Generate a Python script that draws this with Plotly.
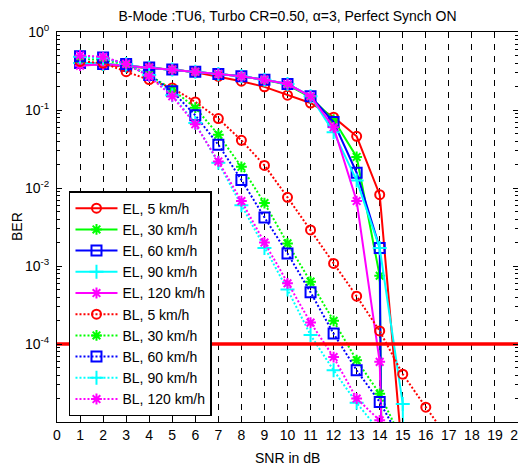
import plotly.graph_objects as go

# ---------------- data ----------------
snr = list(range(1, 18))

# EL (solid) curves
el_5 = [0.395, 0.376, 0.36, 0.345, 0.33, 0.305, 0.27, 0.234, 0.198, 0.155, 0.123, 0.081, 0.046, 0.0082, 3.3e-6, None, None]
el_30 = [0.40, 0.39, 0.37, 0.35, 0.33, 0.31, 0.29, 0.27, 0.245, 0.21, 0.145, 0.075, 0.025, 7.5e-4, 1e-30, None, None]
el_60 = [0.40, 0.39, 0.37, 0.35, 0.33, 0.31, 0.29, 0.27, 0.245, 0.215, 0.150, 0.070, 0.0157, 0.0017, 1e-40, None, None]
el_90 = [0.40, 0.39, 0.37, 0.35, 0.33, 0.31, 0.29, 0.27, 0.245, 0.215, 0.150, 0.052, 0.0125, 0.0017, 1.7e-5, 1e-40, None]
el_120 = [0.37, 0.385, 0.37, 0.35, 0.33, 0.31, 0.29, 0.27, 0.245, 0.215, 0.150, 0.060, 0.0068, 5.9e-5, 1e-15, None, None]

# BL (dotted) curves
bl_5 = [0.42, 0.40, 0.31, 0.246, 0.192, 0.127, 0.0776, 0.0408, 0.0195, 0.0076, 0.0029, 0.00108, 4.1e-4, 1.47e-4, 4.1e-5, 1.55e-5, 6e-6]
bl_30 = [0.45, 0.44, 0.38, 0.28, 0.183, 0.107, 0.0483, 0.0187, 0.0064, 0.00195, 6.3e-4, 1.98e-4, 6.2e-5, 2.3e-5, 5.6e-6, None, None]
bl_60 = [0.49, 0.47, 0.39, 0.28, 0.174, 0.0856, 0.0359, 0.0127, 0.0042, 0.00145, 4.6e-4, 1.36e-4, 4.6e-5, 1.8e-5, 5.3e-6, None, None]
bl_90 = [0.48, 0.46, 0.39, 0.28, 0.155, 0.068, 0.021, 0.0060, 0.0017, 5.0e-4, 1.3e-4, 4.6e-5, 1.76e-5, 7.6e-6, None, None, None]
bl_120 = [0.50, 0.48, 0.39, 0.27, 0.150, 0.0656, 0.0219, 0.0068, 0.0020, 6.0e-4, 1.88e-4, 6.8e-5, 2.0e-5, 1.05e-5, None, None, None]

target_ber = 1e-4
x_ticks = list(range(0, 21))
y_tick_vals = [1, 1e-1, 1e-2, 1e-3, 1e-4]
y_tick_text = ["10<sup>0</sup>", "10<sup>-1</sup>", "10<sup>-2</sup>", "10<sup>-3</sup>", "10<sup>-4</sup>"]
y_minor_vals = [k * 10.0 ** e for e in range(-5, 0) for k in range(2, 10)]

series = [
    ("EL, 5 km/h", el_5, "#FF0000", "circle-open", "solid", 9),
    ("EL, 30 km/h", el_30, "#00FF00", "asterisk-open", "solid", 9),
    ("EL, 60 km/h", el_60, "#0000FF", "square-open", "solid", 10),
    ("EL, 90 km/h", el_90, "#00FFFF", "cross-thin-open", "solid", 10),
    ("EL, 120 km/h", el_120, "#FF00FF", "asterisk-open", "solid", 9),
    ("BL, 5 km/h", bl_5, "#FF0000", "circle-open", "2px,2px", 9),
    ("BL, 30 km/h", bl_30, "#00FF00", "asterisk-open", "2px,2px", 9),
    ("BL, 60 km/h", bl_60, "#0000FF", "square-open", "2px,2px", 10),
    ("BL, 90 km/h", bl_90, "#00FFFF", "cross-thin-open", "2px,2px", 10),
    ("BL, 120 km/h", bl_120, "#FF00FF", "asterisk-open", "2px,2px", 9),
]

FONT = "Liberation Sans, Arial, sans-serif"
# the page body has an 8px default margin, so the figure is drawn 8px in and down
OFF = 8
W, H = 526 - OFF, 468 - OFF

fig = go.Figure()
for name, vals, color, sym, dash, msize in series:
    fig.add_trace(go.Scatter(
        x=snr, y=vals, name=name, mode="lines+markers",
        line=dict(color=color, width=2, dash=dash),
        marker=dict(symbol=sym, size=msize, color=color, line=dict(color=color, width=2)),
    ))

fig.add_trace(go.Scatter(
    x=[x_ticks[0], x_ticks[-1]], y=[target_ber, target_ber], mode="lines",
    line=dict(color="#FF0000", width=3.5), showlegend=False, hoverinfo="skip",
))

fig.update_layout(
    width=W, height=H,
    margin=dict(l=57 - OFF, r=8, t=32 - OFF, b=46, autoexpand=False),
    paper_bgcolor="white", plot_bgcolor="white",
    font=dict(family=FONT, size=14, color="black"),
    title=dict(text="B-Mode :TU6, Turbo CR=0.50, α=3, Perfect Synch ON",
               x=0.5, xref="paper", xanchor="center",
               y=1, yref="container", yanchor="top", pad=dict(t=3),
               font=dict(family=FONT, size=14, color="black")),
    showlegend=True,
    legend=dict(x=0.026, y=0.592, xanchor="left", yanchor="top",
                bgcolor="white", bordercolor="black", borderwidth=1.5,
                font=dict(family=FONT, size=14, color="black"),
                itemwidth=42, tracegroupgap=0),
    xaxis=dict(range=[0, 20], tickmode="array", tickvals=x_ticks,
               ticks="inside", ticklen=4, tickcolor="black",
               showline=True, linecolor="black", linewidth=1, mirror="ticks",
               showgrid=True, gridcolor="black", gridwidth=1, griddash="6px,6px",
               zeroline=False, tickfont=dict(family=FONT, size=14)),
    yaxis=dict(type="log", range=[-5.0, 0], tickmode="array",
               tickvals=y_tick_vals, ticktext=y_tick_text,
               ticks="inside", ticklen=5, tickcolor="black", ticklabelstandoff=4,
               minor=dict(tickmode="array", tickvals=y_minor_vals, ticks="inside",
                          ticklen=3, tickcolor="black", showgrid=False),
               showline=True, linecolor="black", linewidth=1, mirror="ticks",
               showgrid=False, zeroline=False, tickfont=dict(family=FONT, size=14)),
    annotations=[
        dict(text="SNR in dB", xref="paper", yref="paper", x=0.5, y=-(458 - 422) / 390,
             xanchor="center", yanchor="middle", showarrow=False,
             font=dict(family=FONT, size=14, color="black")),
        dict(text="BER", xref="paper", yref="paper", x=(17 - 57) / 461, y=0.5,
             xanchor="center", yanchor="middle", textangle=-90, showarrow=False,
             font=dict(family=FONT, size=14, color="black")),
    ],
)

fig.write_html("out.html")
